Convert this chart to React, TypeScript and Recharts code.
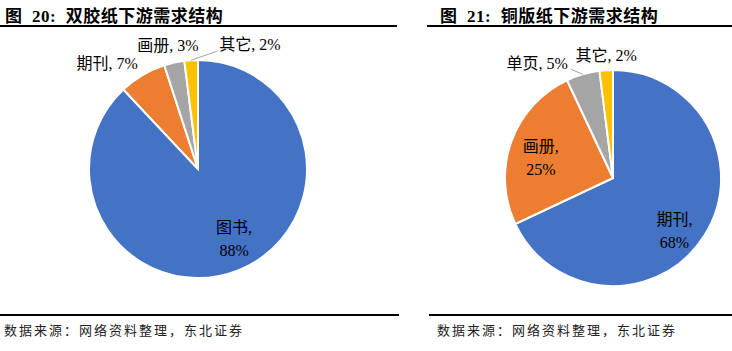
import { PieChart, Pie, Cell } from "recharts";

const leftNames = ["图书", "期刊", "画册", "其它"];
const leftValues = [88, 7, 3, 2];
const rightNames = ["期刊", "画册", "单页", "其它"];
const rightValues = [68, 25, 5, 2];
const sliceColors = ["#4472C4", "#ED7D31", "#A5A5A5", "#FFC000"];

const FONT = "'Liberation Serif', 'Times New Roman', 'Noto Sans CJK SC', serif";
const RAD = Math.PI / 180;

type LabelSpot = {
  k: number;
  dx: number;
  dy: number;
  anchor: "start" | "middle" | "end";
  split?: boolean;
  leader?: [number, number];
};

// where each label sits, relative to the slice's mid angle
const leftSpots: LabelSpot[] = [
  { k: 0.7, dx: 8, dy: -3, anchor: "middle", split: true },
  { k: 1.05, dx: -2, dy: -7, anchor: "end" },
  { k: 1.05, dx: -5, dy: -12, anchor: "middle" },
  { k: 1, dx: 28, dy: -16, anchor: "start", leader: [26, -9] },
];
const rightSpots: LabelSpot[] = [
  { k: 0.74, dx: -6, dy: 8, anchor: "middle", split: true },
  { k: 0.7, dx: -1, dy: 4, anchor: "middle", split: true },
  { k: 1, dx: -15, dy: -11, anchor: "end", leader: [-12, -5] },
  { k: 1, dx: 0, dy: -15, anchor: "middle" },
];

function makeLabel(spots: LabelSpot[]) {
  return (props: any) => {
    const { cx, cy, midAngle, outerRadius, index, name, value } = props;
    const s = spots[index];
    const cos = Math.cos(-midAngle * RAD);
    const sin = Math.sin(-midAngle * RAD);
    const bx = cx + outerRadius * s.k * cos;
    const by = cy + outerRadius * s.k * sin;
    const x = bx + s.dx;
    const y = by + s.dy;
    const ex = cx + outerRadius * cos;
    const ey = cy + outerRadius * sin;
    return (
      <g key={`lbl-${index}`}>
        {s.leader && (
          <polyline
            points={`${ex},${ey} ${ex + s.leader[0]},${ey + s.leader[1]}`}
            stroke="#A5A5A5"
            strokeWidth={1}
            fill="none"
          />
        )}
        {s.split ? (
          <text x={x} y={y} textAnchor={s.anchor} fontFamily={FONT} fontSize={16} fill="#000">
            <tspan x={x} dy={-4}>{`${name},`}</tspan>
            <tspan x={x} dy={23}>{`${value}%`}</tspan>
          </text>
        ) : (
          <text
            x={x}
            y={y}
            textAnchor={s.anchor}
            dominantBaseline="central"
            fontFamily={FONT}
            fontSize={16}
            fill="#000"
          >
            {`${name}, ${value}%`}
          </text>
        )}
      </g>
    );
  };
}

function DemandPie({
  names,
  values,
  spots,
  width,
  cx,
  cy,
  radius,
}: {
  names: string[];
  values: number[];
  spots: LabelSpot[];
  width: number;
  cx: number;
  cy: number;
  radius: number;
}) {
  const data = names.map((name, i) => ({ name, value: values[i] }));
  return (
    <PieChart width={width} height={351} margin={{ top: 0, right: 0, bottom: 0, left: 0 }}>
      <Pie
        data={data}
        dataKey="value"
        nameKey="name"
        cx={cx}
        cy={cy}
        outerRadius={radius}
        startAngle={90}
        endAngle={-270}
        stroke="#fff"
        strokeWidth={2}
        label={makeLabel(spots)}
        labelLine={false}
        isAnimationActive={false}
      >
        {data.map((d, i) => (
          <Cell key={d.name} fill={sliceColors[i]} />
        ))}
      </Pie>
    </PieChart>
  );
}

const titleStyle: React.CSSProperties = {
  position: "absolute",
  top: 2,
  fontFamily: FONT,
  fontSize: 17,
  fontWeight: "bold",
  whiteSpace: "pre",
  letterSpacing: 0.5,
  color: "#000",
};

const footStyle: React.CSSProperties = {
  position: "absolute",
  top: 320,
  fontFamily: FONT,
  fontSize: 13,
  letterSpacing: 2,
  whiteSpace: "pre",
  color: "#222",
};

export default function App() {
  return (
    <div
      style={{
        position: "absolute",
        left: 0,
        top: 0,
        width: 732,
        height: 351,
        background: "#fff",
        overflow: "hidden",
      }}
    >
      <div style={{ position: "absolute", left: 0, top: 0 }}>
        <DemandPie names={leftNames} values={leftValues} spots={leftSpots} width={399} cx={198} cy={169} radius={109} />
      </div>
      <div style={{ position: "absolute", left: 429, top: 0 }}>
        <DemandPie names={rightNames} values={rightValues} spots={rightSpots} width={303} cx={184} cy={178} radius={108} />
      </div>

      <div style={{ ...titleStyle, left: 5 }}>{"图  20:  双胶纸下游需求结构"}</div>
      <div style={{ ...titleStyle, left: 440 }}>{"图  21:  铜版纸下游需求结构"}</div>

      <div style={{ position: "absolute", left: 0, top: 25, width: 397, height: 1.5, background: "#000" }} />
      <div style={{ position: "absolute", left: 427, top: 25, width: 305, height: 1.5, background: "#000" }} />
      <div style={{ position: "absolute", left: 0, top: 314, width: 399, height: 1.5, background: "#000" }} />
      <div style={{ position: "absolute", left: 429, top: 314, width: 303, height: 1.5, background: "#000" }} />

      <div style={{ ...footStyle, left: 4 }}>{"数据来源：网络资料整理，东北证券"}</div>
      <div style={{ ...footStyle, left: 437 }}>{"数据来源：网络资料整理，东北证券"}</div>
    </div>
  );
}
